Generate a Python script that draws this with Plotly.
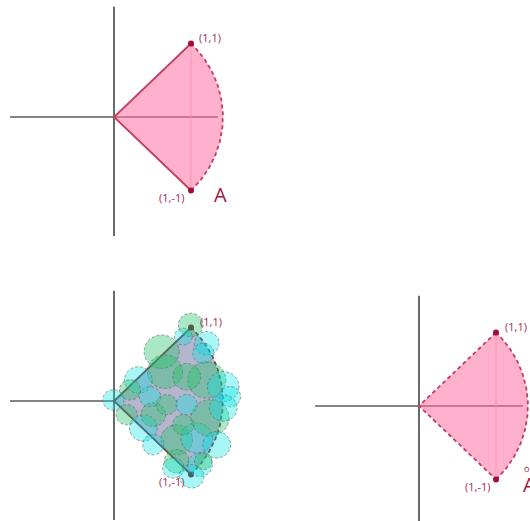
import numpy as np
import plotly.graph_objects as go

# ---- data ----
AXIS_X = [-1.35, 1.35]          # horizontal axis extent
AXIS_Y = [-1.62, 1.5]           # vertical axis extent
CORNER_X = [1, 1]               # sector corner points (1,1), (1,-1)
CORNER_Y = [1, -1]
CORNER_LABELS = ["(1,1)", "(1,-1)"]
ANGLE_DEG = [-45, 45]           # sector angular extent
RADIUS = float(np.sqrt(2))

# covering circles (panel 2): centre x, centre y, radius, kind (c = cyan, g = green)
CIRCLE_X = [0.996, 0.619, 1.204, 0.900, 1.160, 0.662, 0.316, 1.204, 1.419, 1.506,
            0.944, -0.009, 0.208, 0.468, 0.165, 0.381, 0.510, 0.814, 1.074, 1.247,
            1.419, 1.334, 0.814, 1.117, 0.770, 1.009, 1.160, 0.510, 0.684, 0.944,
            0.900]
CIRCLE_Y = [1.034, 0.671, 0.785, 0.875, 0.649, 0.399, 0.286, 0.286, 0.195, 0.059,
            0.331, 0.014, 0.150, 0.059, -0.186, -0.367, -0.186, -0.527, -0.503, -0.231,
            -0.095, -0.595, -0.820, -0.867, -0.912, -1.024, -0.820, -0.595, -0.050, -0.050,
            -0.322]
CIRCLE_R = [0.160, 0.228, 0.160, 0.115, 0.138, 0.228, 0.180, 0.248, 0.205, 0.138,
            0.180, 0.138, 0.138, 0.138, 0.138, 0.180, 0.160, 0.205, 0.205, 0.248,
            0.180, 0.180, 0.160, 0.160, 0.138, 0.160, 0.115, 0.138, 0.138, 0.138,
            0.138]
CIRCLE_KIND = ["g", "g", "c", "c", "c", "g", "c", "g", "c", "c",
               "g", "c", "g", "c", "g", "c", "g", "g", "c", "g",
               "c", "c", "g", "c", "c", "c", "g", "c", "g", "c",
               "g"]

# ---- layout geometry ----
W, H = 530, 521
UX, UY = 77.0, 73.5   # pixels per unit

panels = {
    1: dict(xpx=(0, 265), ypx=(0, 260), o=(114, 117)),
    2: dict(xpx=(0, 265), ypx=(261, 521), o=(114, 401)),
    3: dict(xpx=(265, 530), ypx=(261, 521), o=(419, 406)),
}

fig = go.Figure()
layout = dict(width=W, height=H, margin=dict(l=0, r=0, t=0, b=0),
              paper_bgcolor="white", plot_bgcolor="white", showlegend=False,
              font=dict(family="Open Sans"))
for k, p in panels.items():
    xs = "" if k == 1 else str(k)
    xr = [(p["xpx"][0] - p["o"][0]) / UX, (p["xpx"][1] - p["o"][0]) / UX]
    yr = [(p["o"][1] - p["ypx"][1]) / UY, (p["o"][1] - p["ypx"][0]) / UY]
    layout["xaxis" + xs] = dict(domain=[p["xpx"][0] / W, p["xpx"][1] / W], range=xr,
                                visible=False, anchor="y" + xs, fixedrange=True)
    layout["yaxis" + xs] = dict(domain=[1 - p["ypx"][1] / H, 1 - p["ypx"][0] / H], range=yr,
                                visible=False, anchor="x" + xs, fixedrange=True)
fig.update_layout(**layout)

t = np.radians(np.linspace(ANGLE_DEG[0], ANGLE_DEG[1], 80))
arc_x = RADIUS * np.cos(t)
arc_y = RADIUS * np.sin(t)
sector_x = np.concatenate([[0], arc_x, [0]])
sector_y = np.concatenate([[0], arc_y, [0]])

EDGE = "#c2405f"
DOT = "#a30d35"
LABEL = "#a82850"

def add_axes(xa, ya):
    fig.add_trace(go.Scatter(x=AXIS_X, y=[0, 0], mode="lines", line=dict(color="#5a5a5a", width=1.4),
                             xaxis=xa, yaxis=ya, hoverinfo="skip"))
    fig.add_trace(go.Scatter(x=[0, 0], y=AXIS_Y, mode="lines", line=dict(color="#2a2a2a", width=1.4),
                             xaxis=xa, yaxis=ya, hoverinfo="skip"))

def add_sector(xa, ya, fill, edge_dash, edge_color, dot_color, guide=True):
    fig.add_trace(go.Scatter(x=sector_x, y=sector_y, mode="none", fill="toself", fillcolor=fill,
                             xaxis=xa, yaxis=ya, hoverinfo="skip"))
    if guide:
        fig.add_trace(go.Scatter(x=CORNER_X, y=CORNER_Y, mode="lines",
                                 line=dict(color="rgba(255,140,185,0.8)", width=1),
                                 xaxis=xa, yaxis=ya, hoverinfo="skip"))
    fig.add_trace(go.Scatter(x=[CORNER_X[0], 0, CORNER_X[1]], y=[CORNER_Y[0], 0, CORNER_Y[1]],
                             mode="lines", line=dict(color=edge_color, width=1.8, dash=edge_dash),
                             xaxis=xa, yaxis=ya, hoverinfo="skip"))
    fig.add_trace(go.Scatter(x=arc_x, y=arc_y, mode="lines",
                             line=dict(color=edge_color, width=1.8, dash="4px,3px"),
                             xaxis=xa, yaxis=ya, hoverinfo="skip"))
    fig.add_trace(go.Scatter(x=CORNER_X, y=CORNER_Y, mode="markers",
                             marker=dict(color=dot_color, size=6),
                             xaxis=xa, yaxis=ya, hoverinfo="skip"))

def add_labels(xr, yr, shifts):
    for (lx, ly, lt, sx, sy, anc) in shifts:
        fig.add_annotation(x=lx, y=ly, xref=xr, yref=yr, text=lt, showarrow=False,
                           xanchor=anc, yanchor="middle", xshift=sx, yshift=sy,
                           font=dict(size=11, color=LABEL, family="Open Sans"))

# Panel 1: set A
add_axes("x", "y")
add_sector("x", "y", "rgba(255,111,162,0.55)", "solid", EDGE, DOT)
add_labels("x", "y", [(CORNER_X[0], CORNER_Y[0], CORNER_LABELS[0], 6, 6, "left"),
                      (CORNER_X[1], CORNER_Y[1], CORNER_LABELS[1], -5, -7, "right")])
fig.add_annotation(x=CORNER_X[1], y=CORNER_Y[1], xref="x", yref="y", text="A", showarrow=False,
                   xanchor="center", yanchor="middle", xshift=29, yshift=-4,
                   font=dict(size=20, color="#a0163c", family="Open Sans"))

# Panel 2: covering by open discs
add_axes("x2", "y2")
add_sector("x2", "y2", "rgba(180,182,206,1)", "solid", "#6e3444", "#6b1a2a", guide=False)
for cx, cy, r, kd in zip(CIRCLE_X, CIRCLE_Y, CIRCLE_R, CIRCLE_KIND):
    col = "rgba(0,228,228,0.34)" if kd == "c" else "rgba(40,195,110,0.40)"
    fig.add_shape(type="circle", xref="x2", yref="y2", x0=cx - r, x1=cx + r, y0=cy - r, y1=cy + r,
                  fillcolor=col, line=dict(color="rgba(100,100,100,0.6)", width=1, dash="3px,2px"),
                  layer="above")
add_labels("x2", "y2", [(CORNER_X[0], CORNER_Y[0], CORNER_LABELS[0], 7, 6, "left"),
                        (CORNER_X[1], CORNER_Y[1], CORNER_LABELS[1], -5, -7, "right")])

# Panel 3: interior of A
add_axes("x3", "y3")
add_sector("x3", "y3", "rgba(255,111,162,0.55)", "4px,3px", EDGE, DOT)
add_labels("x3", "y3", [(CORNER_X[0], CORNER_Y[0], CORNER_LABELS[0], 7, 6, "left"),
                        (CORNER_X[1], CORNER_Y[1], CORNER_LABELS[1], -4, -7, "right")])
fig.add_annotation(x=CORNER_X[1], y=CORNER_Y[1], xref="x3", yref="y3", text="A", showarrow=False,
                   xanchor="left", yanchor="middle", xshift=25, yshift=-5,
                   font=dict(size=20, color="#a0163c", family="Open Sans"))
fig.add_annotation(x=CORNER_X[1], y=CORNER_Y[1], xref="x3", yref="y3", text="o", showarrow=False,
                   xanchor="center", yanchor="middle", xshift=30, yshift=11,
                   font=dict(size=9, color="#a0163c", family="Open Sans"))

fig.write_html("out.html")
